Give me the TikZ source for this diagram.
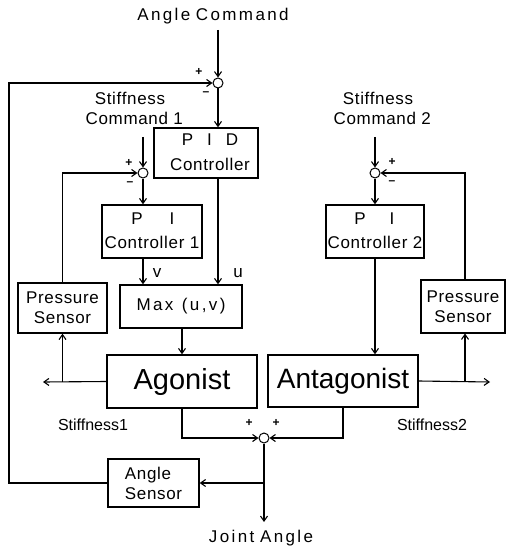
\documentclass[tikz,border=0pt]{standalone}
\usepackage{fontspec}
\setmainfont{Liberation Sans}
\newfontfamily\wide[LetterSpace=14]{Liberation Sans}
\newfontfamily\semi[LetterSpace=4]{Liberation Sans}
\usetikzlibrary{arrows.meta,calc}
\tikzset{
  blk/.style={draw, line width=1.4pt, inner sep=0pt, align=center},
  sumj/.style={circle, draw, line width=1pt, fill=white, minimum size=10pt, inner sep=0pt},
  sig/.style={line width=1.1pt},
  arr/.style={sig, -{Straight Barb[length=5pt,width=7pt,line width=1.1pt]}},
  lbl/.style={inner sep=0pt, font=\semi\fontsize{17}{20}\selectfont},
  sgn/.style={inner sep=0pt, font=\bfseries\fontsize{12}{12}\selectfont}
}
\begin{document}
\begin{tikzpicture}[x=1pt,y=-1pt]
\useasboundingbox (0,0) rectangle (508,548);
% blocks
\node[blk, minimum width=104pt, minimum height=50pt] (pid) at (206,153) {};
\node[lbl, font=\fontsize{17}{17}\selectfont] (pidt) at (210,140) {P\hspace{14pt}I\hspace{14pt}D};
\node[lbl] (pidc) at (210,164) {Controller};
\node[blk, minimum width=100pt, minimum height=53pt] (pi1) at (152,231.5) {};
\node[lbl] (pi1p) at (137,219) {P};
\node[lbl] (pi1i) at (172,219) {I};
\node[lbl] (pi1c) at (152,242) {Controller 1};
\node[blk, minimum width=98pt, minimum height=53pt] (pi2) at (375,231.5) {};
\node[lbl] (pi2p) at (360,219) {P};
\node[lbl] (pi2i) at (392,219) {I};
\node[lbl] (pi2c) at (375,242) {Controller 2};
\node[blk, minimum width=122pt, minimum height=43pt, font=\wide\fontsize{17}{17}\selectfont] (max) at (181,306.5) {Max\,\,\,(u,v)};
\node[blk, minimum width=89pt, minimum height=50pt, font=\semi\fontsize{17}{20}\selectfont] (ps1) at (62.5,308) {Pressure\\Sensor};
\node[blk, minimum width=84pt, minimum height=53pt, font=\semi\fontsize{17}{20}\selectfont] (ps2) at (463,306.5) {Pressure\\Sensor};
\node[blk, minimum width=150pt, minimum height=53pt, font=\fontsize{29}{29}\selectfont] (ago) at (182,381.5) {Agonist};
\node[blk, minimum width=150pt, minimum height=52pt, font=\fontsize{28}{28}\selectfont] (ant) at (343,381) {Antagonist};
\node[blk, minimum width=91pt, minimum height=48pt, align=left, font=\semi\fontsize{17}{20}\selectfont] (as) at (153.5,483) {Angle\\Sensor};
% summing junctions
\node[sumj] (s1) at (218,83) {};
\node[sumj] (s2) at (143,173) {};
\node[sumj] (s3) at (375,173) {};
\node[sumj] (s4) at (264,438) {};
% texts
\node[lbl, font=\wide\fontsize{17}{17}\selectfont] (ac) at (213,16) {Angle\,\,Command};
\node[lbl, align=center] (sc1) at (130,108) {Stiffness\\\,\,\,Command 1};
\node[lbl, align=center] (sc2) at (378,108) {Stiffness\\\,\,\,Command 2};
\node[lbl, font=\wide\fontsize{17}{17}\selectfont] (ja) at (261,538) {Joint\,\,Angle};
\node[lbl, font=\fontsize{16}{16}\selectfont] (st1) at (93,425) {Stiffness1};
\node[lbl, font=\fontsize{16}{16}\selectfont] (st2) at (432,425) {Stiffness2};
\node[lbl] (lv) at (157,273) {v};
\node[lbl] (lu) at (238,273) {u};
\node[sgn] (p1) at (199,72) {+};
\node[sgn] (m1) at (206,94) {--};
\node[sgn] (p2) at (129,163) {+};
\node[sgn] (m2) at (130,184) {--};
\node[sgn] (p3) at (392,162) {+};
\node[sgn] (m3) at (392,183) {--};
\node[sgn] (p4) at (249,423) {+};
\node[sgn] (p5) at (276,423) {+};
% free ends
\coordinate (acin) at (218,30);
\coordinate (s2in) at (143,137);
\coordinate (s3in) at (375,137);
\coordinate (out1) at (43,382);
\coordinate (out2) at (490,382);
\coordinate (jout) at (264,522);
\coordinate (fbx) at (9,0);
% connectors
\draw[arr] (acin) -- (s1.north);
\draw[arr] (s1.south) -- (s1.south |- pid.north);
\draw[arr] (s2in) -- (s2.north);
\draw[arr] (s3in) -- (s3.north);
\draw[arr] (s2.south) -- (s2.south |- pi1.north);
\draw[arr] (s3.south) -- (pi2.north);
\draw[arr] (s2.south |- pi1.south) -- (s2.south |- max.north);
\draw[arr] (s1.south |- pid.south) -- (s1.south |- max.north);
\draw[arr] (max.south -| ago.north) -- (ago.north);
\draw[arr] (pi2.south) -- (pi2.south |- ant.north);
\draw[arr] (ago.west) -- (out1);
\draw[arr] (ant.east) -- (out2);
\draw[arr] (ps1.south |- ago.west) -- (ps1.south);
\draw[arr] (465,382) -- (465,333.5);
\draw[arr] (ps1.north) |- (s2.west);
\draw[arr] (465,280) |- (s3.east);
\draw[arr] (ago.south) |- (s4.west);
\draw[arr] (ant.south) |- (s4.east);
\draw[arr] (s4.south) -- (jout);
\draw[arr] (s4.south |- as.east) -- (as.east);
\draw[arr] (as.west) -| (fbx |- as.west) |- (s1.west);
\end{tikzpicture}
\end{document}
